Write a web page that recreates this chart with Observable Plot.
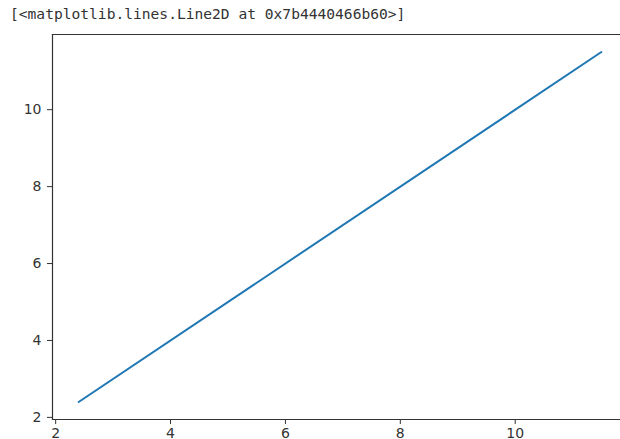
<!DOCTYPE html>
<html>
<head>
<meta charset="utf-8">
<script src="https://cdn.jsdelivr.net/npm/d3@7"></script>
<script src="https://cdn.jsdelivr.net/npm/@observablehq/plot@0.6"></script>
<style>
  html, body { margin: 0; padding: 0; background: #fff; overflow: hidden; }
  #title { height: 26px; line-height: 28px; padding-left: 10px; font-family: "DejaVu Sans Mono", monospace; font-size: 14.6px; color: #333; white-space: pre; }
  svg { display: block; overflow: visible; }
</style>
</head>
<body>
<div id="title"></div>
<div id="chart"></div>
<script>
const titleText = "[<matplotlib.lines.Line2D at 0x7b4440466b60>]";
const xValues = [2.4, 11.5];
const yValues = [2.4, 11.5];
const xTicks = [2, 4, 6, 8, 10];
const yTicks = [2, 4, 6, 8, 10];
const xDomain = [1.945, 11.955];
const yDomain = [1.945, 11.955];

document.getElementById("title").textContent = titleText;

const data = xValues.map((x, i) => ({x, y: yValues[i]}));

const chart = Plot.plot({
  width: 620,
  height: 413,
  marginLeft: 52,
  marginRight: 0,
  marginTop: 8,
  marginBottom: 20,
  style: {fontSize: "14px", fontFamily: "DejaVu Sans", color: "#333", background: "#fff", overflow: "visible"},
  x: {domain: xDomain, range: [52, 627]},
  y: {domain: yDomain, range: [393, 8]},
  marks: [
    Plot.line(data, {x: "x", y: "y", stroke: "#1f77b4", strokeWidth: 2}),
    Plot.frame({anchor: "top", stroke: "#333", strokeWidth: 1.2}),
    Plot.frame({anchor: "bottom", stroke: "#333", strokeWidth: 1.2}),
    Plot.frame({anchor: "left", stroke: "#333", strokeWidth: 1.2}),
    Plot.axisX({ticks: xTicks, tickSize: 5, tickPadding: 4, tickFormat: d => String(d), stroke: "#333", label: null}),
    Plot.axisY({ticks: yTicks, tickSize: 5, tickPadding: 6, tickFormat: d => String(d), stroke: "#333", label: null})
  ]
});
document.getElementById("chart").appendChild(chart);
</script>
</body>
</html>
